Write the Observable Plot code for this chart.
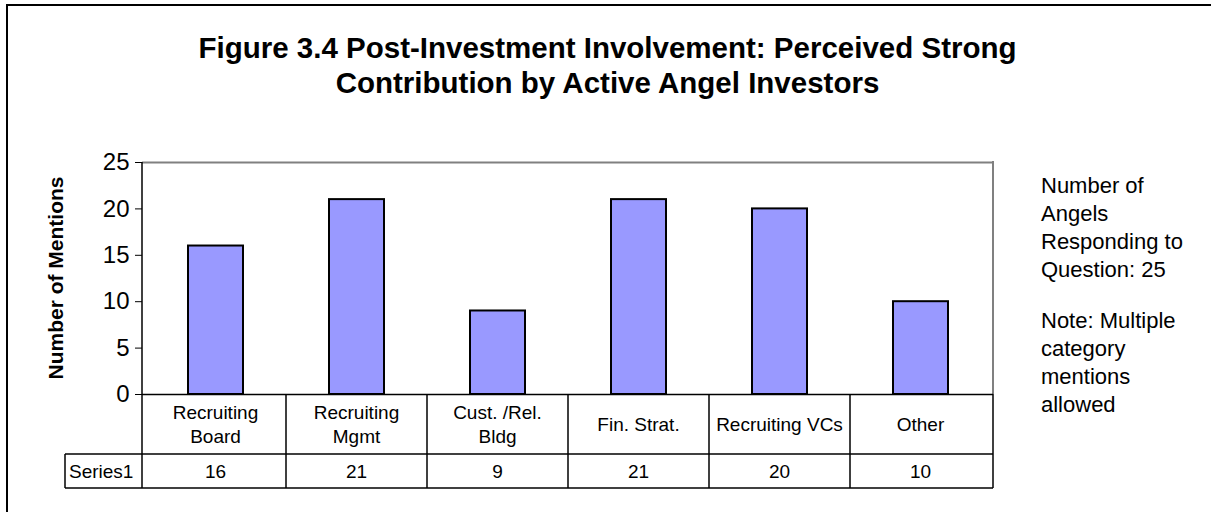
<!DOCTYPE html>
<html><head><meta charset="utf-8">
<script src="https://cdn.jsdelivr.net/npm/d3@7"></script>
<script src="https://cdn.jsdelivr.net/npm/@observablehq/plot@0.6"></script>
<style>
body{margin:0;background:#fff;}
#wrap{position:relative;width:1211px;height:512px;overflow:hidden;font-family:"Liberation Sans",Arial,sans-serif;color:#000;background:#fff;}
#wrap svg{position:absolute;left:0;top:0;}
#border{position:absolute;left:6px;top:4px;width:1300px;height:600px;border-left:2px solid #000;border-top:2px solid #000;}
#title{position:absolute;left:0;width:1215px;top:30px;text-align:center;font-weight:bold;font-size:29.5px;line-height:35px;}
#ylabel{position:absolute;left:56px;top:278px;transform:translate(-50%,-50%) rotate(-90deg);font-weight:bold;font-size:21px;white-space:nowrap;}
#note{position:absolute;left:1041px;top:172px;font-size:22px;line-height:28px;}
#note p{margin:0;}
#note p + p{margin-top:23px;}
</style>
</head><body>
<div id="wrap"></div>
<script>
const titleLines = ["Figure 3.4 Post-Investment Involvement: Perceived Strong", "Contribution by Active Angel Investors"];
const yLabel = "Number of Mentions";
const categories = ["Recruiting\nBoard", "Recruiting\nMgmt", "Cust. /Rel.\nBldg", "Fin. Strat.", "Recruiting VCs", "Other"];
const mentions = [16, 21, 9, 21, 20, 10];
const seriesName = "Series1";
const yTicks = [0, 5, 10, 15, 20, 25];
const noteParagraphs = [["Number of", "Angels", "Responding to", "Question: 25"], ["Note: Multiple", "category", "mentions", "allowed"]];

const data = categories.map((c, i) => ({category: c, value: mentions[i]}));

function tableMark(index, scales, vals, dimensions) {
  const x = scales.x;
  const bw = typeof x.bandwidth === "function" ? x.bandwidth() : x.bandwidth;
  const step = x(categories[1]) - x(categories[0]);
  const {width, height, marginLeft, marginRight, marginTop, marginBottom} = dimensions;
  const left = marginLeft, right = width - marginRight;
  const top = marginTop, y0 = height - marginBottom;
  const y1 = y0 + 60, y2 = y1 + 34;
  const headerLeft = left - 77;
  const g = d3.create("svg:g");
  const line = (xa, ya, xb, yb, stroke = "#000", sw = 1.5) =>
    g.append("line").attr("x1", xa).attr("y1", ya).attr("x2", xb).attr("y2", yb)
      .attr("stroke", stroke).attr("stroke-width", sw);
  // plot frame right (gray)
  line(right, top - 1, right, y0, "#808080", 2);
  // table lines
  line(headerLeft, y1, right, y1);
  line(headerLeft, y2, right, y2);
  line(headerLeft, y1, headerLeft, y2);
  line(right, y0, right, y2);
  categories.forEach((c, i) => {
    const cx = x(c) + bw / 2;
    const e = cx + step / 2;
    if (i < categories.length - 1) line(e, y0, e, y2);
  });
  // left axis line
  line(left, top, left, y2, "#000", 1.5);
  // texts
  categories.forEach((c, i) => {
    const cx = x(c) + bw / 2;
    const parts = c.split("\n");
    const lh = 24;
    const ymid = (y0 + y1) / 2;
    parts.forEach((p, j) => {
      g.append("text").attr("x", cx).attr("y", ymid + (j - (parts.length - 1) / 2) * lh)
        .attr("dy", "0.35em").attr("text-anchor", "middle").attr("font-size", 19).attr("fill", "#000").text(p);
    });
    g.append("text").attr("x", cx).attr("y", (y1 + y2) / 2).attr("dy", "0.35em")
      .attr("text-anchor", "middle").attr("font-size", 19).attr("fill", "#000").text(mentions[i]);
  });
  g.append("text").attr("x", headerLeft + 4).attr("y", (y1 + y2) / 2).attr("dy", "0.35em")
    .attr("text-anchor", "start").attr("font-size", 19).attr("fill", "#000").text(seriesName);
  return g.node();
}

const chart = Plot.plot({
  width: 1211, height: 512,
  marginLeft: 142, marginRight: 218, marginTop: 162, marginBottom: 118,
  style: {fontFamily: "'Liberation Sans', Arial, sans-serif", background: "transparent", color: "#000", overflow: "visible"},
  x: {domain: categories, paddingInner: 0.61, paddingOuter: 0.305, axis: null},
  y: {domain: [0, 25], axis: null},
  marks: [
    Plot.ruleY([25], {stroke: "#808080", strokeWidth: 2}),
    tableMark,
    Plot.barY(data, {x: "category", y: "value", fill: "#9999FF", stroke: "#000", strokeWidth: 2}),
    Plot.axisY({ticks: yTicks, tickSize: 7, tickPadding: 6, fontSize: 24, label: null, stroke: "#000"}),
    Plot.ruleY([0], {stroke: "#000", strokeWidth: 1.5})
  ]
});

const wrap = document.getElementById("wrap");
wrap.appendChild(chart);
const border = document.createElement("div"); border.id = "border"; wrap.appendChild(border);
const title = document.createElement("div"); title.id = "title";
titleLines.forEach((t, i) => { if (i) title.appendChild(document.createElement("br")); title.appendChild(document.createTextNode(t)); });
wrap.appendChild(title);
const yl = document.createElement("div"); yl.id = "ylabel"; yl.textContent = yLabel; wrap.appendChild(yl);
const note = document.createElement("div"); note.id = "note";
noteParagraphs.forEach(lines => {
  const p = document.createElement("p");
  lines.forEach((t, i) => { if (i) p.appendChild(document.createElement("br")); p.appendChild(document.createTextNode(t)); });
  note.appendChild(p);
});
wrap.appendChild(note);
</script>
</body></html>
